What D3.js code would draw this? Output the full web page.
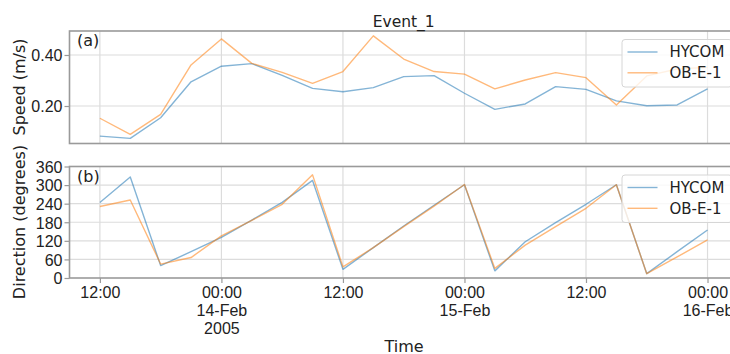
<!DOCTYPE html>
<html>
<head>
<meta charset="utf-8">
<script src="https://cdn.jsdelivr.net/npm/d3@7"></script>
<style>
  html, body { margin: 0; padding: 0; background: #fff; }
  svg { display: block; font-family: "DejaVu Sans", sans-serif; }
</style>
</head>
<body>
<svg id="chart" width="730" height="354"></svg>
<script>
// Three-hourly samples, 13-Feb-2005 12:00 UTC to 16-Feb-2005 00:00 UTC
const times = [
  "2005-02-13T12:00Z", "2005-02-13T15:00Z", "2005-02-13T18:00Z", "2005-02-13T21:00Z",
  "2005-02-14T00:00Z", "2005-02-14T03:00Z", "2005-02-14T06:00Z", "2005-02-14T09:00Z",
  "2005-02-14T12:00Z", "2005-02-14T15:00Z", "2005-02-14T18:00Z", "2005-02-14T21:00Z",
  "2005-02-15T00:00Z", "2005-02-15T03:00Z", "2005-02-15T06:00Z", "2005-02-15T09:00Z",
  "2005-02-15T12:00Z", "2005-02-15T15:00Z", "2005-02-15T18:00Z", "2005-02-15T21:00Z",
  "2005-02-16T00:00Z"
];

// Current speed (m/s)
const speedHYCOM = [0.082, 0.073, 0.154, 0.295, 0.356, 0.366, 0.320, 0.269, 0.256, 0.272, 0.315,
                    0.319, 0.250, 0.187, 0.208, 0.276, 0.265, 0.220, 0.201, 0.204, 0.267];
const speedOBE1  = [0.152, 0.089, 0.167, 0.361, 0.463, 0.367, 0.332, 0.289, 0.335, 0.475, 0.384,
                    0.335, 0.325, 0.267, 0.302, 0.331, 0.311, 0.204, 0.318, 0.345, 0.352];

// Current direction (degrees)
const dirHYCOM = [244, 326, 40, 85, 131, 187, 244, 315, 28, 98, 168,
                  235, 301, 23, 117, 179, 238, 301, 14, 85, 155];
const dirOBE1  = [231, 252, 45, 66, 136, 186, 238, 333, 36, 98, 166,
                  232, 302, 31, 106, 166, 225, 301, 14, 68, 123];

const seriesNames = ["HYCOM", "OB-E-1"];
const seriesColors = ["#1f77b4", "#ff7f0e"];

const speedTicks = [0.20, 0.40];
const dirTicks = [0, 60, 120, 180, 240, 300, 360];
const timeTicks = ["2005-02-13T12:00Z", "2005-02-14T00:00Z", "2005-02-14T12:00Z",
                   "2005-02-15T00:00Z", "2005-02-15T12:00Z", "2005-02-16T00:00Z"];
const timeTickLabels = [["12:00"], ["00:00", "14-Feb", "2005"], ["12:00"],
                        ["00:00", "15-Feb"], ["12:00"], ["00:00", "16-Feb"]];

const svg = d3.select("#chart");
const textColor = "#222";
const gridColor = "#dcdcdc";
const spineColor = "#9a9a9a";

const dates = times.map(t => new Date(t));
const x = d3.scaleUtc()
  .domain([new Date("2005-02-13T09:00Z"), new Date("2005-02-16T03:00Z")])
  .range([69.5, 737.9]);

const panels = [
  { top: 31, bottom: 143.5, domain: [0.053, 0.494], ticks: speedTicks,
    fmt: d3.format(".2f"), label: "Speed (m/s)", tag: "(a)",
    series: [speedHYCOM, speedOBE1], labelY: 87, showX: false },
  { top: 166.5, bottom: 278, domain: [0, 360], ticks: dirTicks,
    fmt: d3.format("d"), label: "Direction (degrees)", tag: "(b)",
    series: [dirHYCOM, dirOBE1], labelY: 222, showX: true }
];

const [x0, x1] = x.range();

panels.forEach((p, pi) => {
  const y = d3.scaleLinear().domain(p.domain).range([p.bottom, p.top]);
  const g = svg.append("g");
  const clipId = "clip" + pi;
  svg.append("clipPath").attr("id", clipId)
    .append("rect").attr("x", x0).attr("y", p.top).attr("width", x1 - x0).attr("height", p.bottom - p.top);

  // grid
  g.selectAll(".hgrid").data(p.ticks.filter(t => t > p.domain[0] && t < p.domain[1])).join("line")
    .attr("x1", x0).attr("x2", x1)
    .attr("y1", d => y(d)).attr("y2", d => y(d))
    .attr("stroke", gridColor).attr("stroke-width", 1.2);
  g.selectAll(".vgrid").data(timeTicks).join("line")
    .attr("x1", d => x(new Date(d))).attr("x2", d => x(new Date(d)))
    .attr("y1", p.top).attr("y2", p.bottom)
    .attr("stroke", gridColor).attr("stroke-width", 1.2);

  // series lines
  const line = d3.line().x((d, i) => x(dates[i])).y(d => y(d));
  p.series.forEach((s, si) => {
    g.append("path").datum(s)
      .attr("clip-path", `url(#${clipId})`)
      .attr("d", line)
      .attr("fill", "none")
      .attr("stroke", seriesColors[si])
      .attr("stroke-opacity", 0.55)
      .attr("stroke-width", 1.4)
      .attr("stroke-linejoin", "round");
  });

  // frame
  g.append("rect").attr("x", x0).attr("y", p.top)
    .attr("width", x1 - x0).attr("height", p.bottom - p.top)
    .attr("fill", "none").attr("stroke", spineColor).attr("stroke-width", 1.6);

  // y axis
  const yAxis = d3.axisLeft(y).tickValues(p.ticks).tickFormat(p.fmt).tickSize(5).tickPadding(2);
  const ya = svg.append("g").attr("transform", `translate(${x0},0)`).call(yAxis);
  ya.select(".domain").remove();
  ya.selectAll(".tick line").attr("stroke", spineColor).attr("stroke-width", 1.2);
  ya.selectAll(".tick text").attr("fill", textColor).style("font-size", "16px")
    .attr("dy", "0.36em");

  // x axis
  if (p.showX) {
    const xAxis = d3.axisBottom(x).tickValues(timeTicks.map(t => new Date(t)))
      .tickSize(5).tickFormat(() => "");
    const xa = svg.append("g").attr("transform", `translate(0,${p.bottom})`).call(xAxis);
    xa.select(".domain").remove();
    xa.selectAll(".tick line").attr("stroke", spineColor).attr("stroke-width", 1.2);
    xa.selectAll(".tick").each(function (d, i) {
      const t = d3.select(this).append("text")
        .attr("fill", textColor).attr("text-anchor", "middle")
        .style("font-size", "16px");
      timeTickLabels[i].forEach((s, li) => {
        t.append("tspan").attr("x", 0).attr("y", 19.5 + li * 18.3).text(s);
      });
    });
  }

  // panel tag
  svg.append("text").attr("x", 77).attr("y", p.top + 15)
    .attr("fill", textColor).style("font-size", "16px").text(p.tag);

  // y label
  svg.append("text")
    .attr("transform", `translate(25,${p.labelY}) rotate(-90)`)
    .attr("text-anchor", "middle").attr("fill", textColor)
    .style("font-size", "16px").text(p.label);

  // legend
  const lx = 622, ly = p.top + 8.5, lw = 110, lh = 47.5;
  const lg = svg.append("g");
  lg.append("rect").attr("x", lx).attr("y", ly).attr("width", lw).attr("height", lh)
    .attr("rx", 3).attr("fill", "#fff").attr("fill-opacity", 0.8)
    .attr("stroke", "#d6d6d6").attr("stroke-width", 1);
  seriesNames.forEach((n, si) => {
    const cy = ly + 12.5 + si * 20.8;
    lg.append("line").attr("x1", lx + 5.5).attr("x2", lx + 35.5)
      .attr("y1", cy).attr("y2", cy)
      .attr("stroke", seriesColors[si]).attr("stroke-opacity", 0.55).attr("stroke-width", 1.4);
    lg.append("text").attr("x", lx + 47.5).attr("y", cy).attr("dy", "0.36em")
      .attr("fill", textColor).style("font-size", "15px").text(n);
  });
});

// title and x label
svg.append("text").attr("x", (x0 + x1) / 2).attr("y", 27)
  .attr("text-anchor", "middle").attr("fill", textColor)
  .style("font-size", "15.5px").text("Event_1");
svg.append("text").attr("x", 404).attr("y", 351.5)
  .attr("text-anchor", "middle").attr("fill", textColor)
  .style("font-size", "16px").text("Time");
</script>
</body>
</html>
